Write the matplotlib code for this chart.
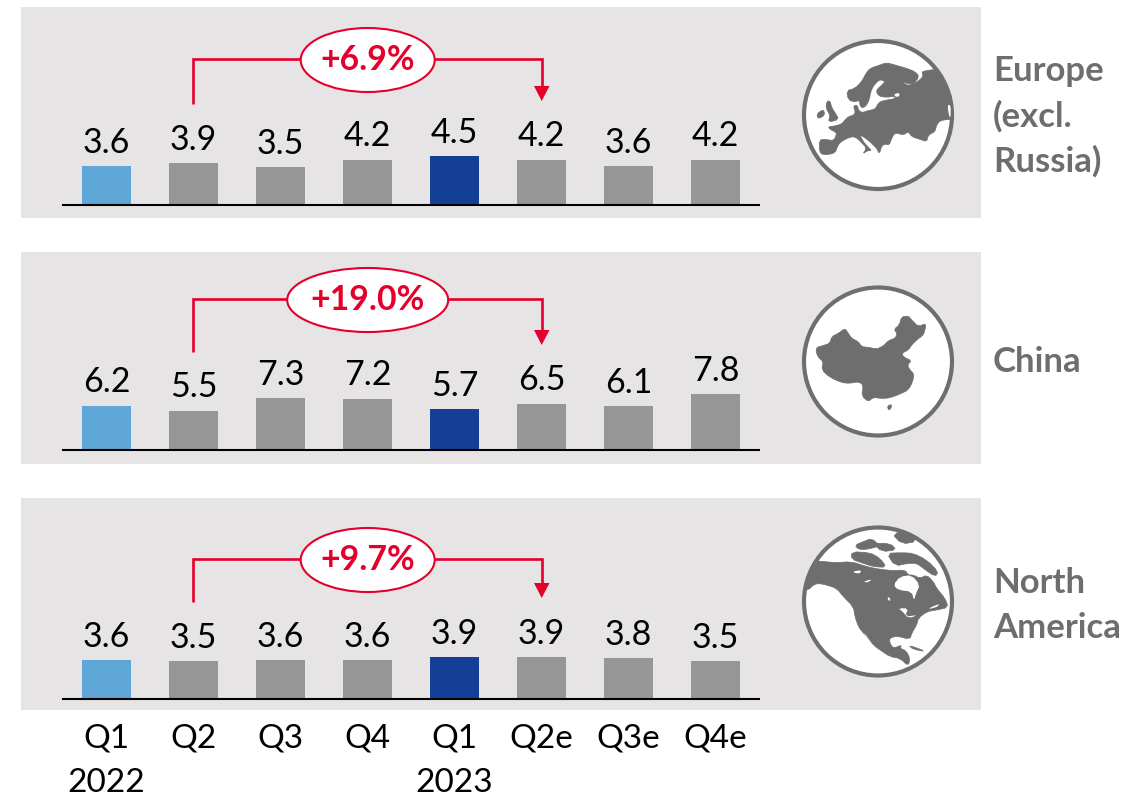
#!/usr/bin/env python3

import matplotlib
matplotlib.use('Agg')
import matplotlib.pyplot as plt
from matplotlib.patches import Circle, Ellipse, Polygon, Rectangle

plt.rcParams['font.family'] = ['Lato', 'DejaVu Sans']

W, H = 1148, 796

quarters = ['Q1\n2022', 'Q2', 'Q3', 'Q4', 'Q1\n2023', 'Q2e', 'Q3e', 'Q4e']
europe = [3.6, 3.9, 3.5, 4.2, 4.5, 4.2, 3.6, 4.2]
china = [6.2, 5.5, 7.3, 7.2, 5.7, 6.5, 6.1, 7.8]
north_america = [3.6, 3.5, 3.6, 3.6, 3.9, 3.9, 3.8, 3.5]
growth = ['+6.9%', '+19.0%', '+9.7%']
regions = ['Europe\n(excl.\nRussia)', 'China', 'North\nAmerica']

PANEL = '#e6e4e5'
GREY = '#969696'
LIGHT_BLUE = '#5ea7d6'
DARK_BLUE = '#143f96'
RED = '#e4002b'
ICON = '#6e6e6e'

bar_colors = [LIGHT_BLUE, GREY, GREY, GREY, DARK_BLUE, GREY, GREY, GREY]

# map silhouettes, 3 units per pixel, relative to the icon's corner
europe_land = [(118, 360), (135, 358), (160, 362), (167, 350), (170, 338), (150, 328), (145, 320),
               (165, 318), (185, 312), (195, 300), (205, 290), (222, 285), (226, 275), (220, 258),
               (232, 255), (236, 272), (248, 278), (262, 272), (285, 268), (292, 255), (300, 245),
               (320, 240), (345, 236), (345, 229), (318, 232), (296, 228), (288, 212), (302, 198),
               (316, 185), (300, 178), (282, 195), (272, 215), (268, 240), (255, 262), (241, 262),
               (238, 240), (225, 246), (205, 240), (200, 212), (225, 205), (245, 185), (258, 160),
               (270, 145), (300, 135), (320, 128), (345, 135), (380, 145), (405, 155), (418, 170),
               (400, 192), (375, 190), (360, 172), (372, 190), (385, 197), (410, 187), (430, 170),
               (425, 155), (440, 152), (465, 148), (540, 150), (540, 298), (505, 298), (480, 302),
               (470, 315), (465, 335), (445, 345), (440, 365), (420, 358), (395, 350), (385, 335),
               (370, 345), (345, 338), (335, 355), (328, 375), (315, 372), (305, 378), (298, 402),
               (290, 385), (280, 375), (270, 365), (250, 350), (240, 345), (250, 365), (265, 382),
               (275, 392), (262, 392), (248, 402), (260, 385), (245, 368), (228, 352), (215, 350),
               (195, 358), (180, 368), (172, 380), (165, 400), (130, 405), (118, 395)]
europe_islands = [[(140, 245), (150, 242), (155, 262), (165, 278), (177, 298), (145, 307), (150, 285),
                   (138, 265)],
                  [(110, 282), (130, 268), (135, 285), (115, 297)]]
europe_water = [[(343, 222), (358, 218), (358, 230), (345, 230)],
                [(502, 255), (512, 255), (512, 290), (508, 292)]]

china_land = [(110, 232), (125, 228), (150, 220), (155, 200), (175, 190), (195, 175), (205, 190),
              (215, 205), (235, 215), (245, 230), (265, 232), (290, 237), (310, 228), (325, 212),
              (345, 205), (352, 192), (342, 178), (358, 165), (365, 140), (385, 138), (395, 150),
              (415, 170), (438, 160), (435, 180), (430, 195), (410, 210), (395, 225), (385, 240),
              (365, 250), (372, 262), (395, 272), (382, 285), (390, 300), (402, 312), (398, 335),
              (385, 360), (360, 372), (340, 380), (320, 385), (300, 385), (280, 382), (265, 395),
              (245, 378), (250, 345), (235, 335), (210, 340), (185, 338), (150, 322), (125, 300),
              (130, 275), (115, 262), (108, 245)]
china_islands = [[(322, 408), (335, 403), (333, 415), (326, 421)]]

na_land = [(40, 245), (85, 240), (100, 225), (115, 220), (140, 225), (170, 235), (190, 260),
           (220, 290), (225, 320), (235, 350), (255, 375), (280, 405), (300, 420), (330, 440),
           (360, 445), (385, 468), (390, 445), (378, 422), (360, 415), (365, 405), (340, 415),
           (330, 400), (328, 385), (350, 378), (390, 388), (395, 370), (410, 345), (415, 325),
           (440, 305), (470, 300), (505, 292), (495, 265), (470, 235), (460, 215), (440, 195),
           (420, 205), (400, 195), (385, 195), (375, 180), (340, 182), (300, 178), (260, 170),
           (215, 155), (165, 158), (115, 153), (40, 150)]
na_islands = [[(215, 125), (270, 128), (300, 145), (320, 172), (280, 170), (250, 160), (215, 148)],
              [(225, 105), (250, 95), (275, 85), (300, 108), (262, 118), (235, 118)],
              [(320, 130), (365, 128), (400, 130), (440, 150), (475, 185), (465, 200), (430, 175),
               (410, 160), (385, 160), (345, 168)],
              [(335, 70), (395, 65), (410, 95), (365, 102)],
              [(280, 100), (330, 100), (350, 120), (305, 125)],
              [(385, 405), (440, 425), (400, 418)]]
na_water = [[(340, 225), (360, 200), (395, 195), (420, 225), (408, 250), (402, 272), (395, 245),
             (355, 240)],
            [(355, 295), (385, 295), (375, 320), (415, 315), (385, 325), (368, 305)],
            [(440, 298), (480, 280), (470, 292)],
            [(322, 262), (328, 262), (332, 272), (326, 272)],
            [(215, 185), (245, 180), (238, 192)],
            [(250, 215), (278, 207), (262, 218)],
            [(250, 370), (256, 372), (282, 410)]]

rows = [
    dict(values=europe, panel=(7, 218), base=205, scale=10.8, bracket=59, start=104, tip=101,
         oval=134, icon=(780, 20), centre=115, land=europe_land, islands=europe_islands,
         water=europe_water, label_y=[71, 116, 161]),
    dict(values=china, panel=(252, 464), base=450, scale=7.14, bracket=299, start=352, tip=345,
         oval=161, icon=(780, 270), centre=361.5, land=china_land, islands=china_islands,
         water=[], label_y=[362]),
    dict(values=north_america, panel=(498, 710), base=699, scale=10.8, bracket=559, start=602, tip=598,
         oval=134, icon=(780, 510), centre=601.5, land=na_land, islands=na_islands,
         water=na_water, label_y=[583, 628]),
]

fig = plt.figure(figsize=(W / 100, H / 100), dpi=100)

# background layer in pixel coordinates, y pointing down
bg = fig.add_axes([0, 0, 1, 1], zorder=0)
bg.set_xlim(0, W)
bg.set_ylim(H, 0)
bg.axis('off')


def icon_points(pts, corner):
    # one pass of corner cutting keeps the coastlines from looking faceted
    out = []
    for k, (x, y) in enumerate(pts):
        nx, ny = pts[(k + 1) % len(pts)]
        out.append((x * 0.75 + nx * 0.25, y * 0.75 + ny * 0.25))
        out.append((x * 0.25 + nx * 0.75, y * 0.25 + ny * 0.75))
    return [(corner[0] + x / 3, corner[1] + y / 3) for x, y in out]


for i, row in enumerate(rows):
    top, bottom = row['panel']
    bg.add_patch(Rectangle((21, top), 960, bottom - top, fc=PANEL, ec='none'))

    # growth bracket from Q2 to Q2e
    y = row['bracket']
    bg.plot([193, 193, 541.7, 541.7], [row['start'], y, y, row['tip'] - 12], color=RED, lw=1.9,
            solid_joinstyle='miter', solid_capstyle='butt', zorder=3)
    bg.add_patch(Polygon([(534, row['tip'] - 15), (549.5, row['tip'] - 15), (541.7, row['tip'])],
                         fc=RED, ec='none', zorder=3))
    bg.add_patch(Ellipse((367.7, y + 1), row['oval'], 64, fc='white', ec=RED, lw=1.5, zorder=4))
    bg.text(367.7, y + 1.5, growth[i], color=RED, fontsize=24.3, fontweight='bold',
            ha='center', va='center', zorder=5)

    # region icon
    clip = Circle((878, row['centre']), 74, transform=bg.transData)
    bg.add_patch(Circle((878, row['centre']), 74, fc='white', ec=ICON, lw=3, zorder=2))
    for pts in [row['land']] + row['islands']:
        p = Polygon(icon_points(pts, row['icon']), fc=ICON, ec=ICON, lw=0.5, zorder=3)
        bg.add_patch(p)
        p.set_clip_path(clip)
    for pts in row['water']:
        p = Polygon(icon_points(pts, row['icon']), fc='white', ec='none', zorder=3.5)
        bg.add_patch(p)
        p.set_clip_path(clip)

    for line, ly in zip(regions[i].split('\n'), row['label_y']):
        bg.text(993, ly, line, color=ICON, fontsize=25, fontweight='bold', ha='left', va='center')

    # bar axes share the baseline and the pixel scale of the row
    ax = fig.add_axes([63 / W, 1 - row['base'] / H, 696 / W, (row['base'] - top) / H], zorder=1)
    ax.patch.set_alpha(0)
    bars = ax.bar(range(8), row['values'], width=49 / 87, color=bar_colors)
    ax.set_xlim(-0.5, 7.5)
    ax.set_ylim(0, (row['base'] - top) / row['scale'])
    for b, v in zip(bars, row['values']):
        ax.annotate(f'{v:.1f}', (b.get_x() + b.get_width() / 2, v), xytext=(0, 9.6),
                    textcoords='offset points', ha='center', va='baseline', fontsize=24.5, color='black')
    for s in ['top', 'left', 'right']:
        ax.spines[s].set_visible(False)
    ax.spines['bottom'].set_linewidth(1.5)
    ax.set_yticks([])
    ax.set_xticks(range(8))
    if i == 2:
        ax.set_xticklabels(quarters, fontsize=24, linespacing=1.62)
        ax.tick_params(axis='x', length=0, pad=17.5)
    else:
        ax.set_xticklabels([])
        ax.tick_params(axis='x', length=0)

fig.savefig('out.png', dpi=100)
